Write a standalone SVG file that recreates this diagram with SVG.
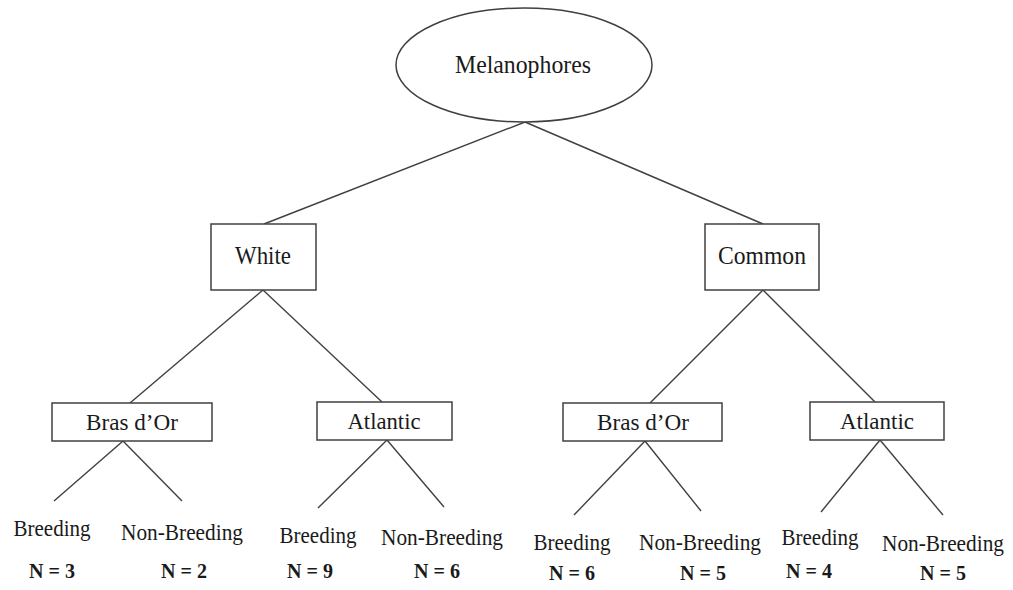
<svg xmlns="http://www.w3.org/2000/svg" width="1013" height="590" viewBox="0 0 1013 590">
<style>
.n{fill:#fff;stroke:#404040;stroke-width:1.5}
.c line{stroke:#404040;stroke-width:1.4}
text{font-family:"Liberation Serif","Times New Roman",serif;fill:#1a1a1a;text-anchor:middle}
.t1{font-size:25px}
.t2{font-size:23px}
.lf{font-size:22.5px}
.nn{font-size:22px;font-weight:bold}
</style>
<rect width="1013" height="590" fill="#fff"/>
<g class="c" id="connectors">
<line x1="525" y1="122" x2="264" y2="224"/>
<line x1="525" y1="122" x2="763" y2="224"/>
<line x1="263" y1="290" x2="130" y2="403"/>
<line x1="263" y1="290" x2="382" y2="402"/>
<line x1="763" y1="290" x2="650" y2="403"/>
<line x1="763" y1="290" x2="875" y2="402"/>
<line x1="123" y1="441" x2="54" y2="501"/>
<line x1="123" y1="441" x2="182" y2="501"/>
<line x1="387" y1="440" x2="318" y2="508"/>
<line x1="387" y1="440" x2="444" y2="507"/>
<line x1="645" y1="441" x2="574" y2="515"/>
<line x1="645" y1="441" x2="701" y2="511"/>
<line x1="880" y1="440" x2="821" y2="512"/>
<line x1="880" y1="440" x2="943" y2="515"/>
</g>
<g id="melanophores"><ellipse class="n" cx="524" cy="65" rx="128" ry="57"/><text class="t1" x="523" y="73" textLength="136" lengthAdjust="spacingAndGlyphs">Melanophores</text></g>
<g id="white"><rect class="n" x="211" y="224" width="105" height="66"/><text class="t1" x="263" y="264" textLength="56" lengthAdjust="spacingAndGlyphs">White</text></g>
<g id="common"><rect class="n" x="705" y="224" width="114" height="66"/><text class="t1" x="762" y="264" textLength="88" lengthAdjust="spacingAndGlyphs">Common</text></g>
<g id="white-bras"><rect class="n" x="52" y="403" width="160" height="38"/><text class="t2" x="132" y="430" textLength="92" lengthAdjust="spacingAndGlyphs">Bras d’Or</text></g>
<g id="white-atlantic"><rect class="n" x="317" y="402" width="135" height="38"/><text class="t2" x="384" y="429" textLength="73" lengthAdjust="spacingAndGlyphs">Atlantic</text></g>
<g id="common-bras"><rect class="n" x="563" y="403" width="159" height="38"/><text class="t2" x="643" y="430" textLength="92" lengthAdjust="spacingAndGlyphs">Bras d’Or</text></g>
<g id="common-atlantic"><rect class="n" x="810" y="402" width="134" height="38"/><text class="t2" x="877" y="429" textLength="74" lengthAdjust="spacingAndGlyphs">Atlantic</text></g>
<g id="leaf1"><text class="lf" x="52" y="536" textLength="77" lengthAdjust="spacingAndGlyphs">Breeding</text><text class="nn" x="52" y="578" textLength="46" lengthAdjust="spacingAndGlyphs">N = 3</text></g>
<g id="leaf2"><text class="lf" x="182" y="540" textLength="122" lengthAdjust="spacingAndGlyphs">Non-Breeding</text><text class="nn" x="184" y="578" textLength="46" lengthAdjust="spacingAndGlyphs">N = 2</text></g>
<g id="leaf3"><text class="lf" x="318" y="543" textLength="77" lengthAdjust="spacingAndGlyphs">Breeding</text><text class="nn" x="310" y="578" textLength="46" lengthAdjust="spacingAndGlyphs">N = 9</text></g>
<g id="leaf4"><text class="lf" x="442" y="545" textLength="122" lengthAdjust="spacingAndGlyphs">Non-Breeding</text><text class="nn" x="437" y="578" textLength="46" lengthAdjust="spacingAndGlyphs">N = 6</text></g>
<g id="leaf5"><text class="lf" x="572" y="550" textLength="77" lengthAdjust="spacingAndGlyphs">Breeding</text><text class="nn" x="572" y="580" textLength="46" lengthAdjust="spacingAndGlyphs">N = 6</text></g>
<g id="leaf6"><text class="lf" x="700" y="550" textLength="122" lengthAdjust="spacingAndGlyphs">Non-Breeding</text><text class="nn" x="703" y="580" textLength="46" lengthAdjust="spacingAndGlyphs">N = 5</text></g>
<g id="leaf7"><text class="lf" x="820" y="545" textLength="77" lengthAdjust="spacingAndGlyphs">Breeding</text><text class="nn" x="809" y="578" textLength="46" lengthAdjust="spacingAndGlyphs">N = 4</text></g>
<g id="leaf8"><text class="lf" x="943" y="551" textLength="122" lengthAdjust="spacingAndGlyphs">Non-Breeding</text><text class="nn" x="943" y="580" textLength="46" lengthAdjust="spacingAndGlyphs">N = 5</text></g>
</svg>
